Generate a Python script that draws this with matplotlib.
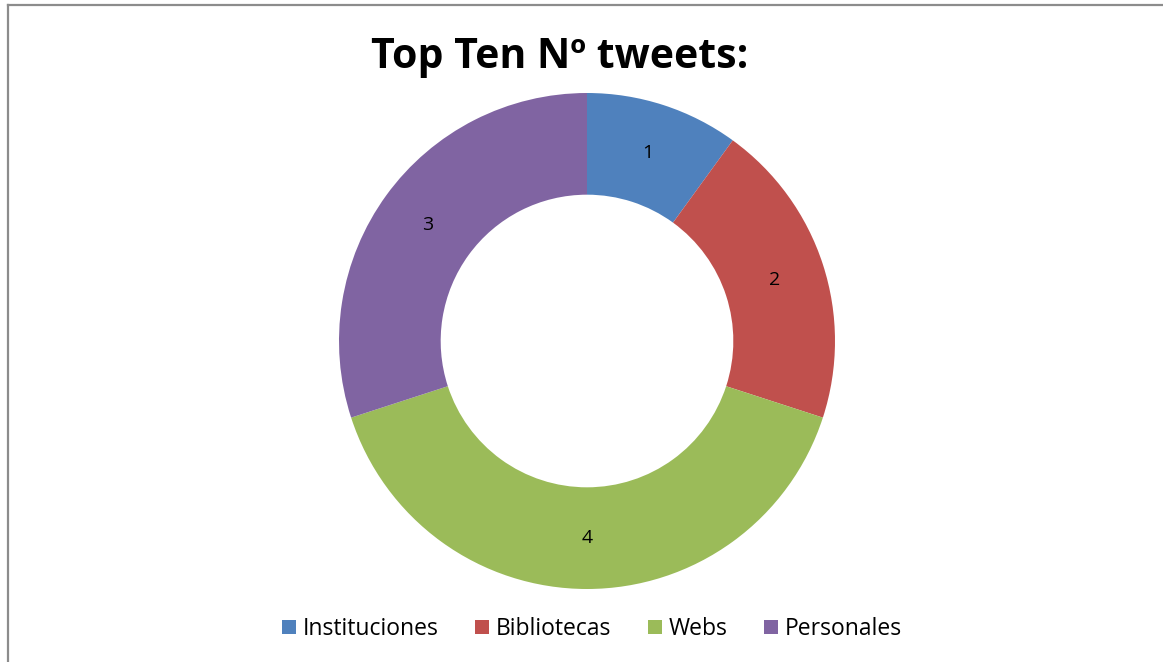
import matplotlib
matplotlib.use('Agg')
import matplotlib.pyplot as plt
import numpy as np
from matplotlib.lines import Line2D
from matplotlib.patches import Patch

categories = ['Instituciones', 'Bibliotecas', 'Webs', 'Personales']
values = [1, 2, 4, 3]
colors = ['#4F81BD', '#C0504D', '#9BBB59', '#8064A2']
title = 'Top Ten Nº tweets:'

plt.rcParams['font.family'] = ['Open Sans', 'DejaVu Sans']

W, H = 1163, 662
fig = plt.figure(figsize=(W / 100, H / 100), dpi=100)
fig.patch.set_facecolor('white')

# pie centred at (587, 341) px, radius 248 px
cx, cy, r = 587, 341, 248
ax = fig.add_axes([(cx - r) / W, (H - cy - r) / H, 2 * r / W, 2 * r / H])
wedges, texts = ax.pie(values, colors=colors, startangle=90, counterclock=False,
                       radius=1, wedgeprops=dict(width=0.41, linewidth=0))
for w, v in zip(wedges, values):
    ang = np.deg2rad((w.theta1 + w.theta2) / 2)
    ax.text(0.795 * np.cos(ang), 0.795 * np.sin(ang), str(v),
            ha='center', va='center', fontsize=14, color='black')
ax.set_xlim(-1, 1)
ax.set_ylim(-1, 1)
ax.set_aspect('equal')
ax.axis('off')

fig.text(560 / W, 1 - 58 / H, title, ha='center', va='center',
         fontsize=29.5, fontweight='bold')

handles = [Patch(facecolor=c, edgecolor='none') for c in colors]
fig.legend(handles, categories, loc='center', bbox_to_anchor=(592 / W, 1 - 629 / H),
           ncol=4, frameon=False, fontsize=16.5, handlelength=0.6, handleheight=0.6,
           handletextpad=0.3, columnspacing=1.6)

# chart frame (left and top edges visible)
fig.add_artist(Line2D([7.5 / W, 7.5 / W], [0, 1 - 5 / H], color='#8c8c8c', lw=1.6))
fig.add_artist(Line2D([7.5 / W, 1], [1 - 5 / H, 1 - 5 / H], color='#8c8c8c', lw=1.6))

fig.savefig('out.png', dpi=100)
